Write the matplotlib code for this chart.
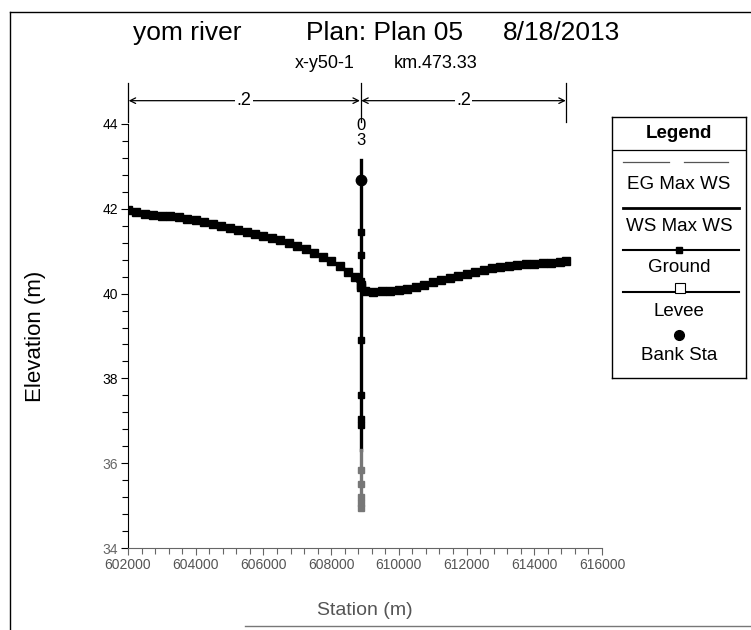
import numpy as np
import matplotlib
matplotlib.use('Agg')
import matplotlib.pyplot as plt
from matplotlib.lines import Line2D
from matplotlib.ticker import MultipleLocator

plt.rcParams['font.family'] = ['Liberation Sans', 'DejaVu Sans']

# ground profile, left overbank
left_sta = [602000, 602250, 602500, 602750, 603000, 603250, 603500, 603750,
            604000, 604250, 604500, 604750, 605000, 605250, 605500, 605750,
            606000, 606250, 606500, 606750, 607000, 607250, 607500, 607750,
            608000, 608250, 608500, 608700, 608870]
left_elev = [41.97, 41.92, 41.88, 41.86, 41.84, 41.82, 41.80, 41.77,
             41.73, 41.69, 41.65, 41.60, 41.55, 41.50, 41.45, 41.40,
             41.35, 41.31, 41.26, 41.20, 41.13, 41.05, 40.96, 40.87,
             40.78, 40.64, 40.52, 40.38, 40.20]

# ground profile, right overbank
right_sta = [608870, 609000, 609250, 609500, 609750, 610000, 610250, 610500,
             610750, 611000, 611250, 611500, 611750, 612000, 612250, 612500,
             612750, 613000, 613250, 613500, 613750, 614000, 614250, 614500,
             614750, 614950]
right_elev = [40.15, 40.06, 40.04, 40.05, 40.06, 40.08, 40.11, 40.15,
              40.21, 40.27, 40.32, 40.37, 40.42, 40.47, 40.52, 40.56,
              40.60, 40.63, 40.66, 40.68, 40.69, 40.70, 40.71, 40.72,
              40.74, 40.76]

# channel points, all at the same station
chan_sta = 608870
chan_elev_top = 43.15
chan_elev = [41.45, 40.90, 40.30, 38.90, 37.60, 37.05, 36.90]
chan_elev_low = [35.85, 35.50, 35.20, 35.05, 34.95]
bank_elev = 42.68

# reach lengths / n values shown above plot
n_left, n_right = '.2', '.2'
lob_end = 614950

xticks = list(range(602000, 616001, 2000))
yticks = [34, 36, 38, 40, 42, 44]

fig = plt.figure(figsize=(7.51, 6.30), dpi=100)
ax = fig.add_axes([128 / 751, 1 - 548 / 630, 474 / 751, 424 / 630])
ax.set_xlim(602000, 616000)
ax.set_ylim(34, 44)
for s in ('top', 'right'):
    ax.spines[s].set_visible(False)
ax.spines['bottom'].set_color('#666666')

ax.set_xticks(xticks)
ax.set_xticklabels([str(v) for v in xticks], fontsize=10, color='#555555')
ax.set_yticks(yticks)
ax.set_yticklabels([str(v) for v in yticks], fontsize=10)
for lbl in ax.get_yticklabels()[:2]:
    lbl.set_color('#666666')
ax.xaxis.set_minor_locator(MultipleLocator(400))
ax.yaxis.set_minor_locator(MultipleLocator(0.4))
ax.tick_params(which='major', direction='out', length=5, width=0.8, pad=2)
ax.tick_params(which='minor', direction='out', length=4, width=0.8)
ax.tick_params(axis='x', which='both', colors='#666666', labelcolor='#555555')

# ground
ax.plot(left_sta, left_elev, color='black', lw=2.6, marker='s', ms=5.5)
ax.plot(right_sta, right_elev, color='black', lw=2.6, marker='s', ms=5.5)
ax.plot([chan_sta, chan_sta], [chan_elev_top, 36.3], color='black', lw=2.4)
ax.plot([chan_sta] * len(chan_elev), chan_elev, ls='none', color='black',
        marker='s', ms=5)
ax.plot([chan_sta, chan_sta], [36.3, chan_elev_low[-1]], color='#777777', lw=2.4)
ax.plot([chan_sta] * len(chan_elev_low), chan_elev_low, ls='none',
        color='#777777', marker='s', ms=5)
# bank station
ax.plot([chan_sta], [bank_elev], 'o', color='black', ms=7.5)

# reach markers above the plot
y_arr = 44.55
for xs in (602000, chan_sta, lob_end):
    ax.plot([xs, xs], [44.05, 44.97], color='black', lw=0.9, clip_on=False)
for x0, x1, lab in ((602000, chan_sta, n_left), (chan_sta, lob_end, n_right)):
    ax.annotate('', xy=(x0 + 20, y_arr), xytext=(x1 - 20, y_arr),
                arrowprops=dict(arrowstyle='<->', lw=0.9, color='black',
                                shrinkA=0, shrinkB=0),
                annotation_clip=False)
    ax.text((x0 + x1) / 2, y_arr, lab, fontsize=13, ha='center', va='center',
            bbox=dict(facecolor='white', edgecolor='none', pad=1),
            clip_on=False)
ax.text(chan_sta, 43.97, '0', fontsize=12, ha='center', va='center', clip_on=False)
ax.text(chan_sta, 43.6, '3', fontsize=12, ha='center', va='center', clip_on=False)

ax.set_xlabel('Station (m)', fontsize=14, color='#555555')
ax.xaxis.set_label_coords(0.5, -54 / 424)
ax.set_ylabel('Elevation (m)', fontsize=16)
ax.yaxis.set_label_coords(-82 / 474, 0.5)

# titles
fig.text(187 / 751, 1 - 33 / 630, 'yom river', fontsize=19, ha='center', va='center')
fig.text(385 / 751, 1 - 33 / 630, 'Plan: Plan 05', fontsize=19, ha='center', va='center')
fig.text(561 / 751, 1 - 33 / 630, '8/18/2013', fontsize=19, ha='center', va='center')
fig.text(325 / 751, 1 - 63 / 630, 'x-y50-1', fontsize=13, ha='center', va='center')
fig.text(436 / 751, 1 - 63 / 630, 'km.473.33', fontsize=13, ha='center', va='center')

# legend box
lg = fig.add_axes([612 / 751, 1 - 378 / 630, 134 / 751, 261 / 630])
lg.set_xlim(0, 1)
lg.set_ylim(1, 0)
lg.set_xticks([])
lg.set_yticks([])
for s in lg.spines.values():
    s.set_linewidth(1.0)
fs = 13.5
lg.text(0.5, 0.062, 'Legend', fontsize=13.5, fontweight='bold', ha='center', va='center')
lg.plot([0, 1], [0.126, 0.126], color='black', lw=0.9)
lg.plot([0.085, 0.425], [0.172, 0.172], color='#555555', lw=0.9)
lg.plot([0.534, 0.862], [0.172, 0.172], color='#555555', lw=0.9)
lg.text(0.5, 0.26, 'EG Max WS', fontsize=fs, ha='center', va='center')
lg.plot([0.085, 0.95], [0.349, 0.349], color='black', lw=2)
lg.text(0.5, 0.42, 'WS Max WS', fontsize=fs, ha='center', va='center')
lg.plot([0.085, 0.95], [0.51, 0.51], color='black', lw=1.5)
lg.plot([0.5], [0.51], 's', color='black', ms=5)
lg.text(0.5, 0.575, 'Ground', fontsize=fs, ha='center', va='center')
lg.plot([0.085, 0.95], [0.67, 0.67], color='black', lw=1.5)
lg.plot([0.51], [0.655], 's', mfc='white', mec='black', ms=7, mew=0.8)
lg.text(0.5, 0.747, 'Levee', fontsize=fs, ha='center', va='center')
lg.plot([0.5], [0.835], 'o', color='black', ms=7)
lg.text(0.5, 0.912, 'Bank Sta', fontsize=fs, ha='center', va='center')

# page frame
fig.add_artist(Line2D([10 / 751, 1], [1 - 12 / 630] * 2, color='black', lw=1))
fig.add_artist(Line2D([10 / 751] * 2, [0, 1 - 12 / 630], color='black', lw=1))
fig.add_artist(Line2D([245 / 751, 1], [1 - 626 / 630] * 2, color='#777777', lw=1))

fig.savefig('out.png', dpi=100)
